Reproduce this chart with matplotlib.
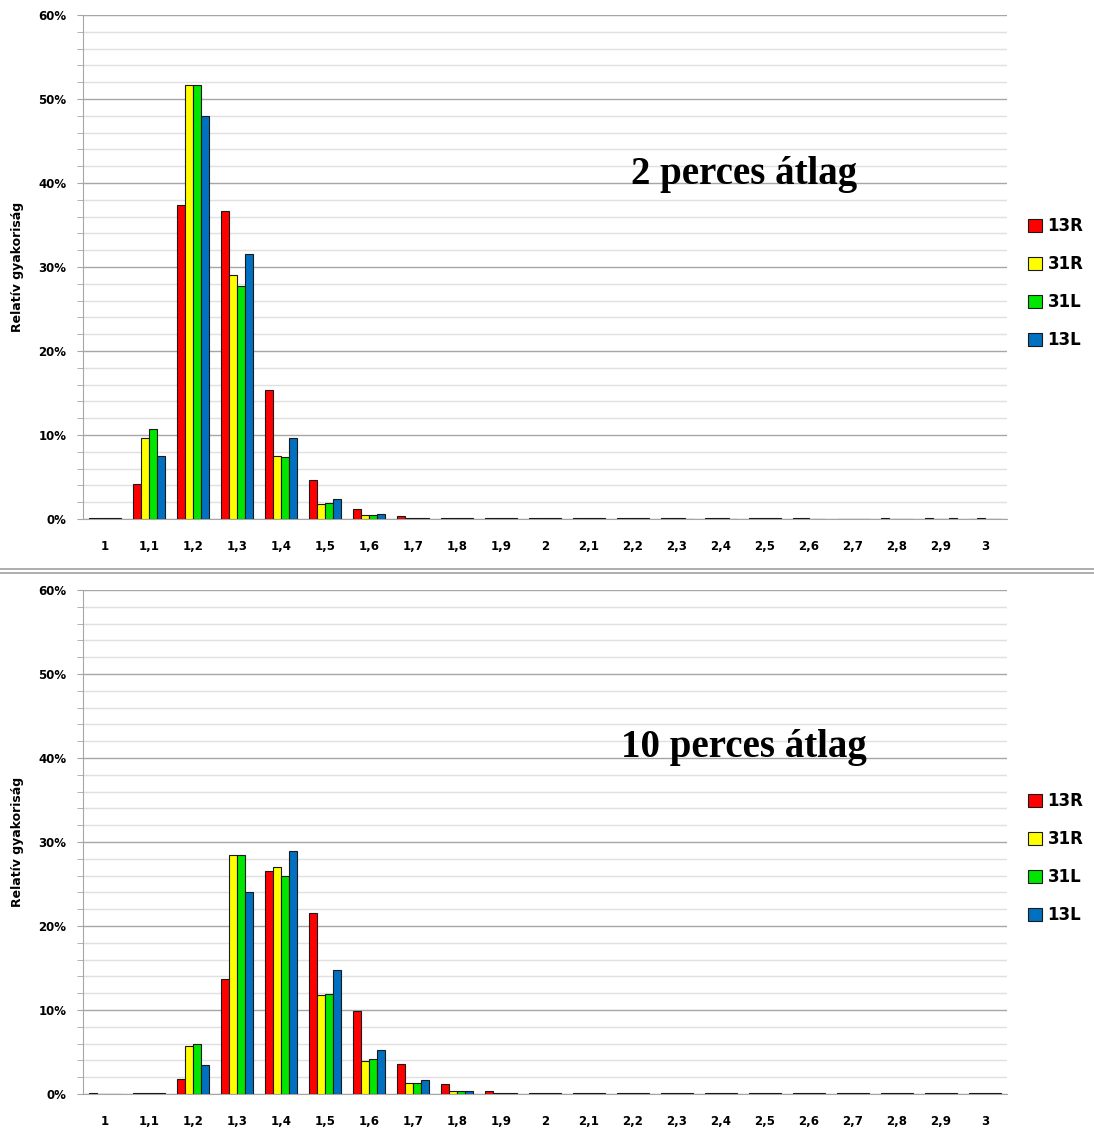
import numpy as np
import matplotlib.pyplot as plt
from matplotlib.lines import Line2D
from matplotlib.ticker import MultipleLocator, FuncFormatter

# kategóriák (1 ... 3)
kategoriak = ['1', '1,1', '1,2', '1,3', '1,4', '1,5', '1,6', '1,7', '1,8', '1,9', '2',
              '2,1', '2,2', '2,3', '2,4', '2,5', '2,6', '2,7', '2,8', '2,9', '3']
sorozatok = ['13R', '31R', '31L', '13L']
szinek = ['#ff0000', '#ffff00', '#00e600', '#0070c0']

# 2 perces átlag (%)
r2 = [0.1, 4.2, 37.4, 36.7, 15.3, 4.7, 1.2, 0.3, 0.1, 0.1, 0.1, 0.1, 0.1, 0.1, 0.1, 0.1, 0.1, 0, 0.1, 0.1, 0]
y2 = [0.1, 9.6, 51.7, 29.0, 7.5, 1.75, 0.45, 0.1, 0.1, 0.1, 0.1, 0.1, 0.1, 0.1, 0.1, 0.1, 0.1, 0, 0, 0, 0.1]
g2 = [0.1, 10.7, 51.7, 27.7, 7.4, 1.9, 0.45, 0.1, 0.1, 0.1, 0.1, 0.1, 0.1, 0.1, 0.1, 0.1, 0, 0, 0, 0, 0]
b2 = [0.1, 7.5, 48.0, 31.6, 9.7, 2.4, 0.55, 0.1, 0.1, 0.1, 0.1, 0.1, 0.1, 0, 0, 0.1, 0, 0, 0, 0.1, 0]

# 10 perces átlag (%)
r10 = [0.1, 0.1, 1.8, 13.7, 26.5, 21.6, 9.9, 3.6, 1.2, 0.4, 0.1, 0.1, 0.1, 0.1, 0.1, 0.1, 0.1, 0.1, 0.1, 0.1, 0.1]
y10 = [0, 0.1, 5.7, 28.4, 27.0, 11.8, 3.9, 1.3, 0.4, 0.1, 0.1, 0.1, 0.1, 0.1, 0.1, 0.1, 0.1, 0.1, 0.1, 0.1, 0.1]
g10 = [0, 0.1, 6.0, 28.4, 25.9, 11.9, 4.2, 1.3, 0.4, 0.1, 0.1, 0.1, 0.1, 0.1, 0.1, 0.1, 0.1, 0.1, 0.1, 0.1, 0.1]
b10 = [0, 0.1, 3.5, 24.0, 28.9, 14.8, 5.2, 1.7, 0.4, 0.1, 0.1, 0.1, 0.1, 0.1, 0.1, 0.1, 0.1, 0.1, 0.1, 0.1, 0.1]

panelek = [
    ('2 perces átlag', [r2, y2, g2, b2]),
    ('10 perces átlag', [r10, y10, g10, b10]),
]

fig = plt.figure(figsize=(10.94, 11.29), dpi=100)
pozicio = [[0.0759, 0.5403, 0.8446, 0.4464], [0.0759, 0.0310, 0.8446, 0.4464]]
legend_y = [0.749, 0.240]
cim_y = [0.683, 0.687]

x = np.arange(len(kategoriak))
w = 0.182

for i, (cim, adatok) in enumerate(panelek):
    ax = fig.add_axes(pozicio[i])
    for k, (vals, szin, nev) in enumerate(zip(adatok, szinek, sorozatok)):
        ax.bar(x + (k - 1.5) * w, vals, width=w, color=szin, edgecolor='#1a1a1a',
               linewidth=0.8, label=nev, zorder=3)

    ax.set_xlim(-0.5, len(kategoriak) - 0.5)
    ax.set_ylim(0, 60)
    ax.yaxis.set_major_locator(MultipleLocator(10))
    ax.yaxis.set_minor_locator(MultipleLocator(2))
    ax.yaxis.set_major_formatter(FuncFormatter(lambda v, p: f'{v:.0f}%'))
    ax.grid(which='major', axis='y', color='#a6a6a6', linewidth=1.0, zorder=0)
    ax.grid(which='minor', axis='y', color='#e0e0e0', linewidth=1.0, zorder=0)
    ax.set_xticks(x)
    ax.set_xticklabels(kategoriak, fontsize=8.5, fontweight='bold')
    ax.tick_params(axis='x', length=0, pad=15)
    ax.tick_params(axis='y', which='both', length=4, color='#a6a6a6', pad=8,
                   labelsize=8.5)
    for lab in ax.get_yticklabels():
        lab.set_fontweight('bold')
    for s in ['top', 'right']:
        ax.spines[s].set_visible(False)
    ax.spines['left'].set_color('#a6a6a6')
    ax.spines['bottom'].set_color('#a6a6a6')
    ax.set_ylabel('Relatív gyakoriság', fontsize=9, fontweight='bold', labelpad=10)

    ax.text(0.715, cim_y[i], cim, transform=ax.transAxes, ha='center', va='center',
            fontsize=28, fontweight='bold', family='Liberation Serif')

    fig.legend(*ax.get_legend_handles_labels(), loc='center left',
               bbox_to_anchor=(0.940, legend_y[i]), bbox_transform=fig.transFigure,
               frameon=False, prop={'size': 12, 'weight': 'bold'},
               handlelength=0.8, handleheight=0.8, handletextpad=0.35,
               labelspacing=1.2, borderpad=0, borderaxespad=0)

# dupla elválasztó vonal a két diagram között
for yy in [1 - 569 / 1129, 1 - 573 / 1129]:
    fig.add_artist(Line2D([0, 1], [yy, yy], color='#a0a0a0', linewidth=1.2,
                          transform=fig.transFigure))

plt.savefig('out.png', dpi=100)
